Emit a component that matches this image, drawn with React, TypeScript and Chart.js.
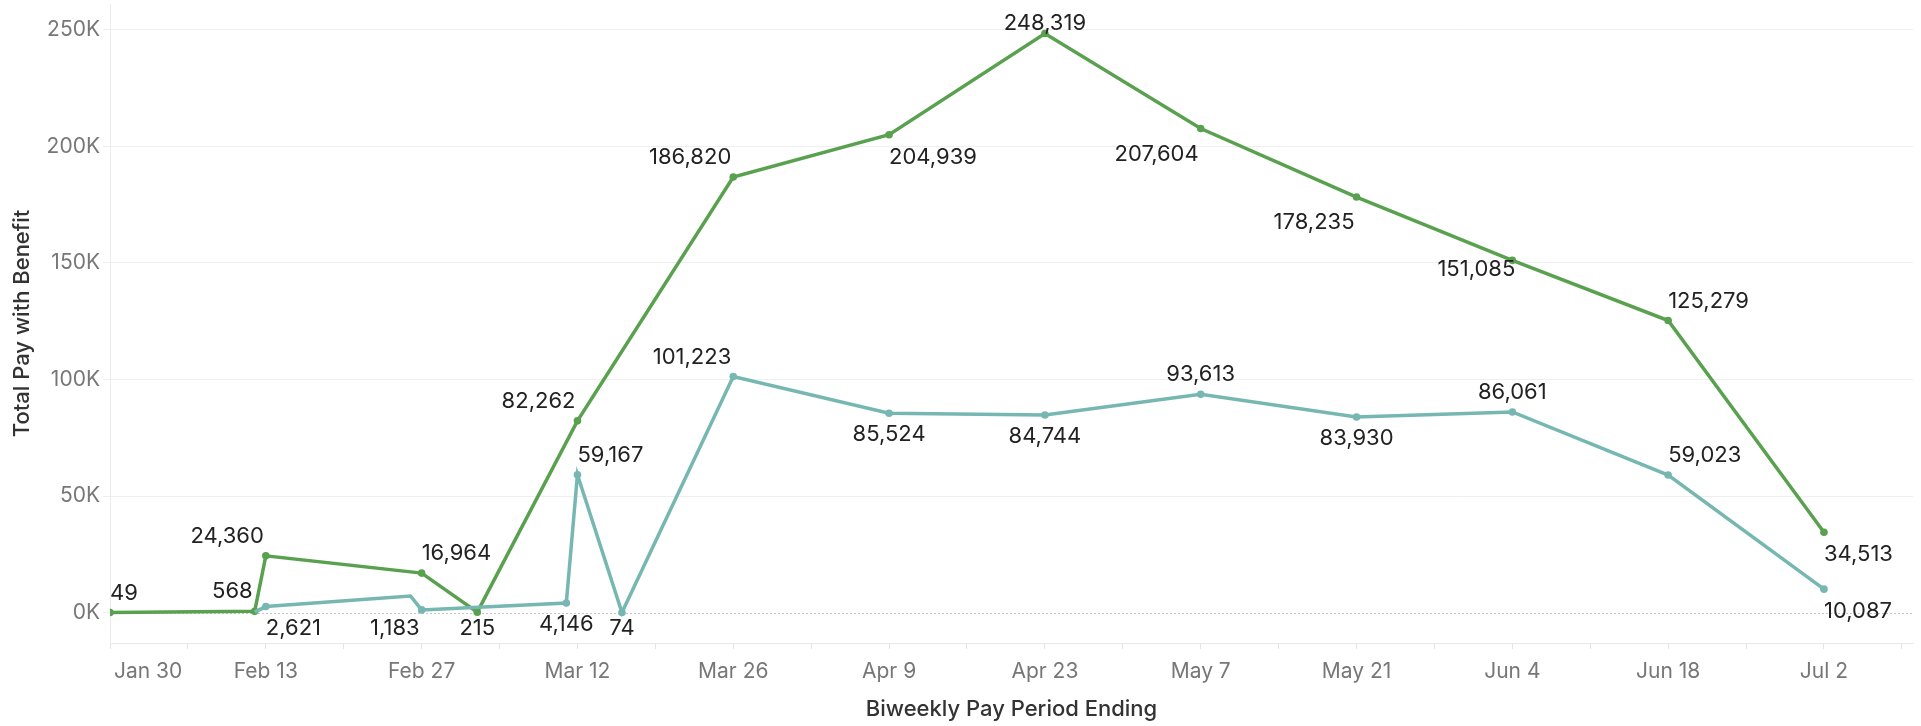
import React, { useEffect, useRef } from 'react';
import { Chart, registerables } from 'chart.js';

Chart.register(...registerables);

// ---------- data ----------
const START_DATE = '2020-01-30';
const END_DATE = '2020-07-10';

const greenDates = ['2020-01-30', '2020-02-12', '2020-02-13', '2020-02-27', '2020-03-03', '2020-03-12', '2020-03-26', '2020-04-09', '2020-04-23', '2020-05-07', '2020-05-21', '2020-06-04', '2020-06-18', '2020-07-02'];
const greenValues = [49, 568, 24360, 16964, 215, 82262, 186820, 204939, 248319, 207604, 178235, 151085, 125279, 34513];
const greenLabelSpots = ['ar', 'al', 'al', 'ar', 'b', 'al', 'al', 'br', 'a', 'bl', 'bl', 'l', 'ar', 'br'];

const tealDates = ['2020-02-12', '2020-02-13', '2020-02-26', '2020-02-27', '2020-03-11', '2020-03-12', '2020-03-16', '2020-03-26', '2020-04-09', '2020-04-23', '2020-05-07', '2020-05-21', '2020-06-04', '2020-06-18', '2020-07-02'];
const tealValues = [250, 2621, 7150, 1183, 4146, 59167, 74, 101223, 85524, 84744, 93613, 83930, 86061, 59023, 10087];
const tealLabelSpots = ['', 'br', '', 'bl', 'b', 'ar', 'b', 'al', 'b', 'b', 'a', 'b', 'a', 'ar', 'br'];

const yTickValues = [0, 50000, 100000, 150000, 200000, 250000];
const Y_MIN = -13000;
const Y_MAX = 261000;
const X_TICK_STEP_DAYS = 7;
const X_LABEL_STEP_DAYS = 14;
const MONTHS = ['Jan', 'Feb', 'Mar', 'Apr', 'May', 'Jun', 'Jul', 'Aug', 'Sep', 'Oct', 'Nov', 'Dec'];

const X_TITLE = 'Biweekly Pay Period Ending';
const Y_TITLE = 'Total Pay with Benefit';

// ---------- styling ----------
const GREEN = '#59a14f';
const TEAL = '#76b7b2';
const FONT = 'Inter';
const LABEL_SIZE = 22;
const TICK_SIZE = 21;

const DAY_MS = 86400000;
const baseMs = Date.parse(START_DATE + 'T00:00:00Z');
const dayOf = (s: string) => Math.round((Date.parse(s + 'T00:00:00Z') - baseMs) / DAY_MS);
const dateLabel = (d: number) => {
  const dt = new Date(baseMs + d * DAY_MS);
  return MONTHS[dt.getUTCMonth()] + ' ' + dt.getUTCDate();
};
const fmt = (v: number) => Math.round(v).toLocaleString('en-US');

const zeroLinePlugin = {
  id: 'zeroLine',
  beforeDatasetsDraw(chart: any) {
    const { ctx, chartArea } = chart;
    const y = Math.round(chart.scales.y.getPixelForValue(0)) + 0.5;
    ctx.save();
    ctx.strokeStyle = '#c6c6c6';
    ctx.lineWidth = 1;
    ctx.setLineDash([2, 2]);
    ctx.beginPath();
    ctx.moveTo(chartArea.left, y);
    ctx.lineTo(chartArea.right, y);
    ctx.stroke();
    ctx.restore();
  },
};

const pointLabelPlugin = {
  id: 'pointLabels',
  afterDatasetsDraw(chart: any) {
    const { ctx, chartArea } = chart;
    ctx.save();
    ctx.font = `${LABEL_SIZE}px ${FONT}`;
    ctx.fillStyle = '#222';
    ctx.textBaseline = 'alphabetic';
    const capHalf = LABEL_SIZE * 0.727 / 2;
    chart.data.datasets.forEach((ds: any, di: number) => {
      const meta = chart.getDatasetMeta(di);
      const spots: string[] = ds.labelSpots || [];
      meta.data.forEach((pt: any, i: number) => {
        const spot = spots[i];
        if (!spot) return;
        const text = fmt(ds.data[i].y);
        const w = ctx.measureText(text).width;
        const x = pt.x;
        const y = pt.y;
        let left = x - w / 2;
        let cy = y;
        switch (spot) {
          case 'a': left = x - w / 2; cy = y - 21; break;
          case 'b': left = x - w / 2; cy = y + 20; break;
          case 'al': left = x - 2 - w; cy = y - 21; break;
          case 'ar': left = x; cy = y - 21; break;
          case 'bl': left = x - 2 - w; cy = y + 24; break;
          case 'br': left = x; cy = y + 21; break;
          case 'l': left = x + 3 - w; cy = y + 8; break;
        }
        cy = Math.max(chartArea.top + 18, Math.min(chartArea.bottom - 16, cy));
        ctx.fillText(text, left, cy + capHalf);
      });
    });
    ctx.restore();
  },
};

const xLabelPlugin = {
  id: 'xLabels',
  afterDraw(chart: any) {
    const { ctx, chartArea } = chart;
    const xs = chart.scales.x;
    ctx.save();
    ctx.font = `${TICK_SIZE}px ${FONT}`;
    ctx.fillStyle = '#777';
    ctx.textBaseline = 'alphabetic';
    const capHalf = TICK_SIZE * 0.727 / 2;
    xs.ticks.forEach((t: any) => {
      if (t.value % X_LABEL_STEP_DAYS !== 0) return;
      const text = dateLabel(t.value);
      const w = ctx.measureText(text).width;
      const px = xs.getPixelForValue(t.value);
      let left = px - w / 2;
      left = Math.max(chartArea.left + 4, Math.min(chartArea.right - w, left));
      ctx.fillText(text, left, chartArea.bottom + 27 + capHalf);
    });
    ctx.restore();
  },
};

export default function App() {
  const canvasRef = useRef<HTMLCanvasElement | null>(null);

  useEffect(() => {
    const canvas = canvasRef.current;
    if (!canvas) return;
    const greenPts = greenDates.map((d, i) => ({ x: dayOf(d), y: greenValues[i] }));
    const tealPts = tealDates.map((d, i) => ({ x: dayOf(d), y: tealValues[i] }));
    const maxDay = dayOf(END_DATE);
    const xTicks: number[] = [];
    for (let d = 0; d <= maxDay; d += X_TICK_STEP_DAYS) xTicks.push(d);

    const chart = new Chart(canvas, {
      type: 'line',
      data: {
        datasets: [
          {
            label: 'Teal',
            data: tealPts,
            borderColor: TEAL,
            backgroundColor: TEAL,
            borderWidth: 3.5,
            tension: 0,
            pointRadius: (c: any) => (tealLabelSpots[c.dataIndex] ? 3.8 : 0),
            pointBorderWidth: 0,
            pointBackgroundColor: TEAL,
            labelSpots: tealLabelSpots,
          } as any,
          {
            label: 'Green',
            data: greenPts,
            borderColor: GREEN,
            backgroundColor: GREEN,
            borderWidth: 3.5,
            tension: 0,
            pointRadius: (c: any) => (greenLabelSpots[c.dataIndex] ? 3.8 : 0),
            pointBorderWidth: 0,
            pointBackgroundColor: GREEN,
            labelSpots: greenLabelSpots,
          } as any,
        ],
      },
      options: {
        animation: false,
        responsive: false,
        devicePixelRatio: 1,
        events: [],
        layout: { padding: { left: 0, right: 8, top: 0, bottom: 0 } },
        plugins: { legend: { display: false }, tooltip: { enabled: false } },
        scales: {
          x: {
            type: 'linear',
            min: 0,
            max: maxDay,
            afterBuildTicks: (s: any) => {
              s.ticks = xTicks.map((v) => ({ value: v }));
            },
            afterFit: (s: any) => {
              s.height = 83;
              s.paddingLeft = 0;
              s.paddingRight = 0;
            },
            ticks: { display: false },
            grid: {
              drawOnChartArea: false,
              drawTicks: true,
              tickLength: 6,
              tickColor: '#e4e4e4',
              color: '#e4e4e4',
            },
            border: { display: true, color: '#e8e8e8', width: 1 },
            title: {
              display: true,
              text: X_TITLE,
              color: '#333',
              font: { family: FONT, size: 22, weight: '500' },
              padding: { top: 0, bottom: 3 },
            },
          },
          y: {
            min: Y_MIN,
            max: Y_MAX,
            afterBuildTicks: (s: any) => {
              s.ticks = yTickValues.map((v) => ({ value: v }));
            },
            afterFit: (s: any) => {
              s.width = 110;
              s.paddingTop = 0;
              s.paddingBottom = 0;
            },
            ticks: {
              callback: (v: any) => Number(v) / 1000 + 'K',
              color: '#777',
              font: { family: FONT, size: TICK_SIZE },
              padding: 3,
            },
            grid: {
              color: (c: any) => (c.tick && c.tick.value === 0 ? 'rgba(0,0,0,0)' : '#efefef'),
              tickColor: '#efefef',
              tickLength: 7,
            },
            border: { display: true, color: '#ececec', width: 1 },
            title: {
              display: true,
              text: Y_TITLE,
              color: '#333',
              font: { family: FONT, size: 22, weight: '500' },
              padding: { top: 9, bottom: 0 },
            },
          },
        },
      } as any,
      plugins: [zeroLinePlugin, pointLabelPlugin, xLabelPlugin],
    });
    return () => chart.destroy();
  }, []);

  return (
    <div style={{ position: 'absolute', left: 0, top: 0, width: 1921, height: 726, background: '#fff' }}>
      <canvas ref={canvasRef} width={1921} height={726} style={{ display: 'block', width: 1921, height: 726 }} />
    </div>
  );
}
